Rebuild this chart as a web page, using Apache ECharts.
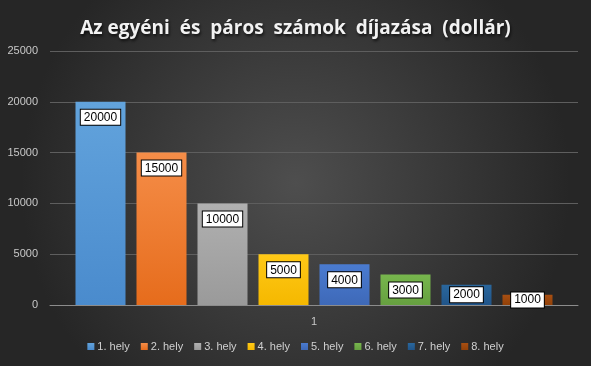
<!DOCTYPE html>
<html><head><meta charset="utf-8">
<script src="https://cdn.jsdelivr.net/npm/echarts@6/dist/echarts.min.js"></script>
<style>html,body{margin:0;padding:0;background:#333;}#c{width:591px;height:366px;}</style>
</head><body><div id="c"></div>
<script>
const categories = ['1'];
const seriesNames = ['1. hely','2. hely','3. hely','4. hely','5. hely','6. hely','7. hely','8. hely'];
const values = [20000, 15000, 10000, 5000, 4000, 3000, 2000, 1000];
const yTicks = {min: 0, max: 25000, interval: 5000};
const colorsTop = ['#62a3dc','#f58d48','#b0b0b0','#ffc917','#4a7bd0','#77b64d','#2a679d','#a84f12'];
const colorsBottom = ['#4a8bcd','#e66c1c','#9a9a9a','#f5b800','#3e69b8','#66a040','#20558a','#924108'];

const chart = echarts.init(document.getElementById('c'));
const series = seriesNames.map((n, i) => ({
  name: n,
  type: 'bar',
  data: [values[i]],
  barWidth: 50,
  barGap: '22%',
  itemStyle: {
    color: new echarts.graphic.LinearGradient(0,0,0,1,[{offset:0,color:colorsTop[i]},{offset:1,color:colorsBottom[i]}])
  },
  label: {
    show: true,
    position: values[i] >= 3000 ? 'insideTop' : 'inside',
    distance: 8,
    color: '#000',
    backgroundColor: '#fff',
    borderColor: '#000',
    borderWidth: 1,
    padding: [2, 3, 1, 3],
    fontFamily: 'Liberation Sans',
    fontSize: 12
  }
}));

chart.setOption({
  backgroundColor: new echarts.graphic.RadialGradient(0.5,0.5,0.75,[{offset:0,color:'#4e4e4e'},{offset:1,color:'#262626'}]),
  title: {
    text: 'Az egyéni  és  páros  számok  díjazása  (dollár)',
    left: 'center', top: 14,
    textStyle: {color:'#f2f2f2', fontSize: 19, fontWeight: 'bold', fontFamily: 'Open Sans',
      textShadowColor:'rgba(0,0,0,0.7)', textShadowBlur: 3, textShadowOffsetX: 1, textShadowOffsetY: 2}
  },
  legend: {
    bottom: 9, left: 'center',
    itemWidth: 7, itemHeight: 7, itemGap: 11,
    icon: 'rect',
    textStyle: {color:'#d0d0d0', fontSize: 11, fontFamily: 'Liberation Sans', padding:[0,0,0,-2]}
  },
  grid: {left: 50, right: 13, top: 51, bottom: 61},
  xAxis: {
    type: 'category', data: categories,
    axisLine: {lineStyle: {color: '#8c8c8c'}},
    axisTick: {show: false},
    axisLabel: {color: '#c8c8c8', fontSize: 11, fontFamily: 'Liberation Sans', margin: 11}
  },
  yAxis: {
    type: 'value', min: yTicks.min, max: yTicks.max, interval: yTicks.interval,
    axisLine: {show: false}, axisTick: {show: false},
    splitLine: {lineStyle: {color: '#5e5e5e'}},
    axisLabel: {color: '#c8c8c8', fontSize: 11, fontFamily: 'Liberation Sans', margin: 12,
      formatter: v => String(v)}
  },
  series: series
});
</script></body></html>
